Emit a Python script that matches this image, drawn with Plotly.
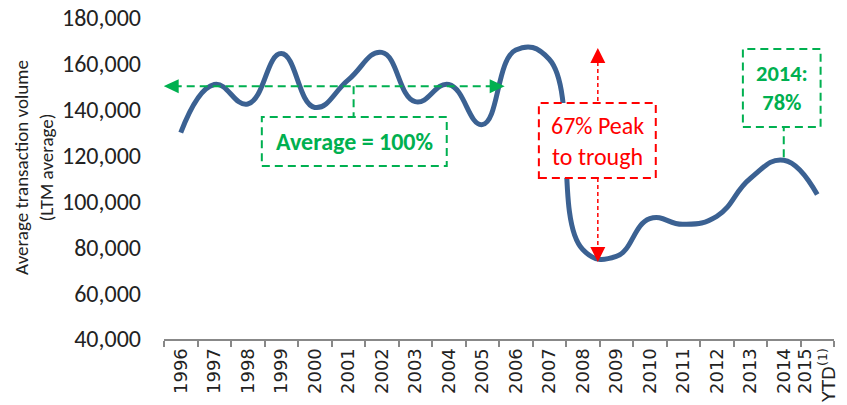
import plotly.graph_objects as go

# Average transaction volume, LTM average
years = ["1996", "1997", "1998", "1999", "2000", "2001", "2002", "2003", "2004", "2005",
         "2006", "2007", "2008", "2009", "2010", "2011", "2012", "2013", "2014", "2015"]
tick_labels = years[:-1] + ["2015<br>YTD<sup>(1)</sup>"]
volume = [130000, 151000, 142500, 164500, 141000, 153000, 165000, 143500, 151000, 133500,
          166000, 162000, 79000, 76000, 92500, 90000, 93500, 110000, 118000, 103000]

# Pre-crisis average (1996-2007) used as the 100% reference level
avg_level = sum(volume[:12]) / 12
peak_level = 166900
trough_level = 73600

GREEN = "#00B050"
RED = "#FF0000"
BLUE = "#3B6192"
FONT = "Carlito, Lato, sans-serif"
TICK_FONT = "'DejaVu Sans', Verdana, sans-serif"

fig = go.Figure()
fig.add_trace(go.Scatter(
    x=years, y=volume, mode="lines",
    line=dict(color=BLUE, width=5, shape="spline", smoothing=1.3),
    hoverinfo="x+y", showlegend=False,
))

px_x = 33.5          # pixels per category
px_y = 140000 / 321  # value per pixel


def tri(tip_x, tip_y, direction, length_px, half_px):
    """Triangle path in data units pointing in the given direction."""
    if direction in ("left", "right"):
        s = -1 if direction == "left" else 1
        bx = tip_x - s * length_px / px_x
        return (f"M {tip_x},{tip_y} L {bx},{tip_y + half_px * px_y} "
                f"L {bx},{tip_y - half_px * px_y} Z")
    s = 1 if direction == "up" else -1
    by = tip_y - s * length_px * px_y
    return (f"M {tip_x},{tip_y} L {tip_x - half_px / px_x},{by} "
            f"L {tip_x + half_px / px_x},{by} Z")


shapes = []
dash_g = dict(color=GREEN, width=2, dash="8px,5px")
dash_r = dict(color=RED, width=2, dash="8px,5px")
dot_r = dict(color=RED, width=1.5, dash="4px,3px")

# Average line with arrow heads
x_left, x_right = -0.51, 9.67
shapes.append(dict(type="line", xref="x", yref="y", x0=x_left + 0.3, x1=x_right - 0.3,
                   y0=avg_level, y1=avg_level, line=dash_g))
shapes.append(dict(type="path", xref="x", yref="y", path=tri(x_left, avg_level, "left", 15, 7),
                   fillcolor=GREEN, line=dict(width=0)))
shapes.append(dict(type="path", xref="x", yref="y", path=tri(x_right, avg_level, "right", 15, 7),
                   fillcolor=GREEN, line=dict(width=0)))
# Average box and connector
shapes.append(dict(type="rect", xref="x", yref="y", x0=2.42, x1=7.94, y0=115400, y1=136800,
                   line=dash_g))
shapes.append(dict(type="line", xref="x", yref="y", x0=5.16, x1=5.16, y0=avg_level, y1=136800,
                   line=dash_g))

# Peak-to-trough arrow and box
xa = 12.45
box_top, box_bot = 142900, 110200
shapes.append(dict(type="line", xref="x", yref="y", x0=xa, x1=xa,
                   y0=peak_level - 14 * px_y, y1=box_top, line=dot_r))
shapes.append(dict(type="line", xref="x", yref="y", x0=xa, x1=xa,
                   y0=box_bot, y1=trough_level + 14 * px_y, line=dot_r))
shapes.append(dict(type="path", xref="x", yref="y", path=tri(xa, peak_level, "up", 15, 7.5),
                   fillcolor=RED, line=dict(width=0)))
shapes.append(dict(type="path", xref="x", yref="y", path=tri(xa, trough_level, "down", 15, 7.5),
                   fillcolor=RED, line=dict(width=0)))
shapes.append(dict(type="rect", xref="x", yref="y", x0=10.69, x1=14.18, y0=box_bot, y1=box_top,
                   line=dash_r, fillcolor="white", layer="above"))

# 2014 box and connector
shapes.append(dict(type="rect", xref="x", yref="y", x0=16.78, x1=19.10, y0=132450, y1=166470,
                   line=dash_g))
shapes.append(dict(type="line", xref="x", yref="y", x0=18, x1=18, y0=volume[18] + 1300, y1=132450,
                   line=dash_g))

annotations = [
    dict(text="Average transaction volume<br>(LTM average)", xref="paper", yref="paper",
         x=-0.194, y=0.533, textangle=-90, showarrow=False, xanchor="center", yanchor="middle",
         font=dict(family=FONT, size=19, color="#222222")),
    dict(text="<b>Average = 100%</b>", xref="x", yref="y", x=5.18, y=126100, showarrow=False,
         font=dict(family=FONT, size=24, color=GREEN)),
    dict(text="67% Peak<br>to trough", xref="x", yref="y", x=12.45, y=126500, showarrow=False,
         font=dict(family=FONT, size=24, color=RED)),
    dict(text="<b>2014:<br>78%</b>", xref="x", yref="y", x=17.94, y=149500, showarrow=False,
         font=dict(family=FONT, size=22.5, color=GREEN)),
]

fig.update_layout(
    width=847, height=405,
    margin=dict(l=164, r=13, t=18, b=66),
    paper_bgcolor="white", plot_bgcolor="white",
    shapes=shapes, annotations=annotations,
    xaxis=dict(type="category", tickmode="array", tickvals=years, ticktext=tick_labels,
               tickangle=-90, tickson="boundaries", ticks="outside", ticklen=6, tickwidth=2,
               tickcolor="#888888", showline=True, linecolor="#888888", linewidth=2,
               showgrid=False, zeroline=False, range=[-0.5, 19.5], automargin=False,
               tickfont=dict(family=TICK_FONT, size=18, color="#222222")),
    yaxis=dict(range=[40000, 180000], tickvals=list(range(40000, 180001, 20000)),
               tickformat=",d", showgrid=False, zeroline=False, showline=False, ticks="",
               ticklabelstandoff=22, automargin=False,
               tickfont=dict(family=FONT, size=24, color="#222222")),
)

fig.write_html("out.html")
